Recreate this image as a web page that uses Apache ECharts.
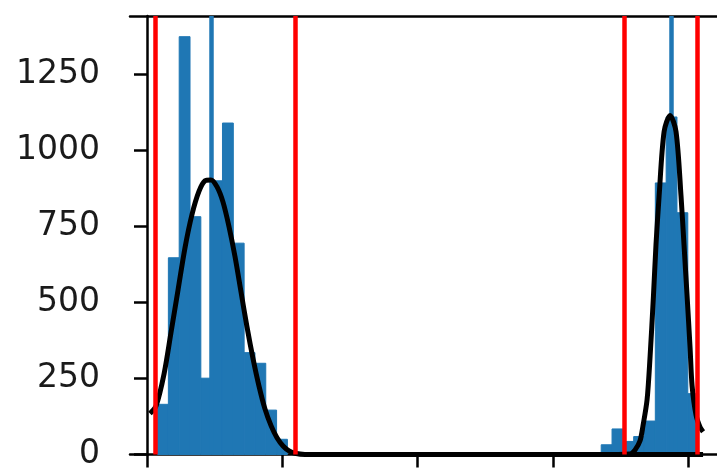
<!DOCTYPE html>
<html>
<head>
<meta charset="utf-8">
<script src="https://cdn.jsdelivr.net/npm/echarts@6/dist/echarts.min.js"></script>
<style>
  html, body { margin: 0; padding: 0; background: #fff; }
  #main { width: 717px; height: 471px; }
</style>
</head>
<body>
<div id="main"></div>
<script>
// histogram bins (x in axis units, ticks at 0..400)
const binWidth = 8;
const leftBinStart = 7.8;
const leftCounts = [165, 647, 1374, 782, 251, 900, 1090, 695, 335, 300, 146, 50];
const rightBinStart = 335.8;
const rightCounts = [32, 84, 43, 59, 110, 893, 1110, 795, 200];

// fitted curves
const leftFitX = [2.2, 6.7, 12.6, 17.7, 22.9, 28.1, 33.3, 38.4, 42.9, 47.3, 51.8, 56.2, 60.6, 65.1, 69.5, 73.9, 78.4, 82.8, 87.2, 91.7, 96.1, 100.6, 105.0, 109.4, 116.8, 411.1];
const leftFitY = [135, 160, 265, 400, 540, 680, 790, 865, 900, 903, 880, 830, 750, 650, 535, 420, 315, 225, 150, 95, 55, 28, 12, 4, 0, 0];
const rightFitX = [335, 357.1, 360.8, 364.5, 366.7, 369.7, 371.9, 374.4, 376.3, 378.6, 382.3, 386.7, 391.1, 394.8, 397.0, 399.3, 401.5, 403.0, 405.9, 408.9, 411.1];
const rightFitY = [0, 2, 15, 45, 95, 180, 320, 520, 690, 850, 1062, 1115, 1062, 850, 690, 520, 350, 225, 130, 90, 75];

// vertical markers
const boundLines = [5.9, 109.4, 353.1, 407.0];
const meanLines = [47.2, 387.9];

const xTicks = [0, 100, 200, 300, 400];
const yTicks = [0, 250, 500, 750, 1000, 1250];

function toBins(start, counts) {
  return counts.map((c, i) => [start + i * binWidth, start + (i + 1) * binWidth, c]);
}
function toPairs(xs, ys) {
  return xs.map((x, i) => [x, ys[i]]);
}

const chart = echarts.init(document.getElementById('main'));
const xMin = -12.57, xMax = 421.4;
const spine = { show: true, lineStyle: { color: '#000', width: 2.5 } };

chart.setOption({
  animation: false,
  grid: { left: 130, right: 0, top: 16, bottom: 11 },
  xAxis: [
    {
      type: 'value', min: xMin, max: xMax, position: 'bottom',
      axisLine: spine,
      axisTick: { show: true, length: 13, lineStyle: { color: '#000', width: 2.5 }, customValues: xTicks },
      axisLabel: { show: false },
      splitLine: { show: false }
    },
    {
      type: 'value', min: xMin, max: xMax, position: 'top',
      axisLine: spine,
      axisTick: { show: false },
      axisLabel: { show: false },
      splitLine: { show: false }
    }
  ],
  yAxis: {
    type: 'value', min: 0, max: 1442,
    axisLine: spine,
    axisTick: { show: true, length: 13, lineStyle: { color: '#000', width: 2.5 }, customValues: yTicks },
    axisLabel: {
      customValues: yTicks, margin: 30,
      formatter: v => String(v),
      fontFamily: 'DejaVu Sans', fontSize: 33, color: '#1a1a1a'
    },
    splitLine: { show: false }
  },
  series: [
    {
      type: 'custom', z: 2,
      data: toBins(leftBinStart, leftCounts).concat(toBins(rightBinStart, rightCounts)),
      encode: { x: [0, 1], y: 2 },
      renderItem: function (params, api) {
        const a = api.coord([api.value(0), api.value(2)]);
        const b = api.coord([api.value(1), 0]);
        return {
          type: 'rect',
          shape: { x: a[0], y: a[1], width: b[0] - a[0], height: b[1] - a[1] },
          style: { fill: '#1f77b4', stroke: '#1f77b4', lineWidth: 1 }
        };
      },
      markLine: {
        silent: true, symbol: 'none', z: 3,
        label: { show: false },
        lineStyle: { color: '#1f77b4', width: 4.5, type: 'solid' },
        emphasis: { disabled: true },
        data: meanLines.map(v => ({ xAxis: v }))
      }
    },
    {
      type: 'line', z: 4, showSymbol: false, smooth: 0.3,
      data: toPairs(leftFitX, leftFitY),
      lineStyle: { color: '#000', width: 5 }
    },
    {
      type: 'line', z: 4, showSymbol: false, smooth: 0.3,
      data: toPairs(rightFitX, rightFitY),
      lineStyle: { color: '#000', width: 5 },
      markLine: {
        silent: true, symbol: 'none', z: 6,
        label: { show: false },
        lineStyle: { color: '#ff0000', width: 4.5, type: 'solid' },
        emphasis: { disabled: true },
        data: boundLines.map(v => ({ xAxis: v }))
      }
    }
  ]
});
</script>
</body>
</html>
